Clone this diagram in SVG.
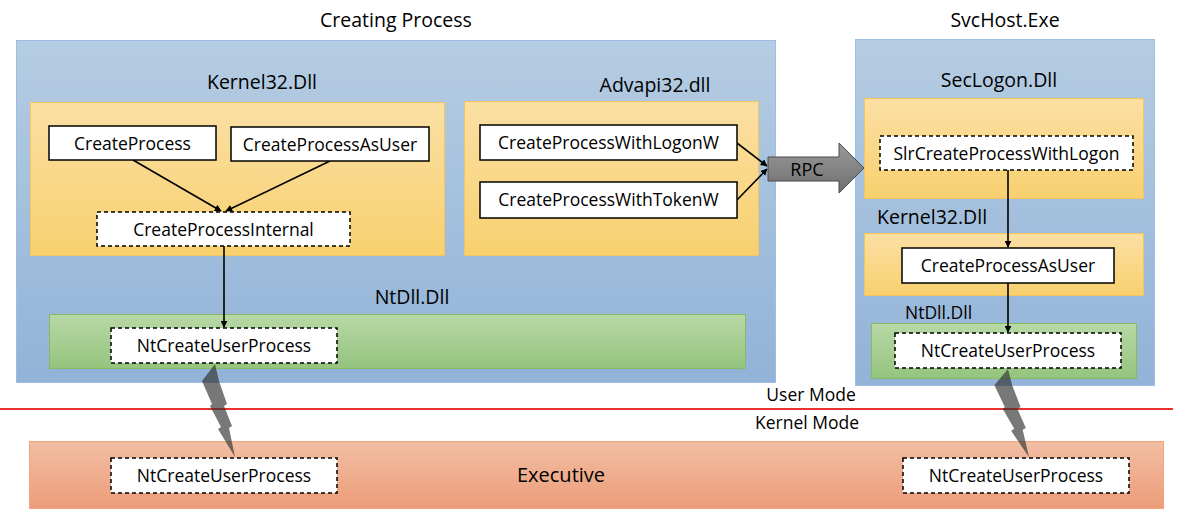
<svg xmlns="http://www.w3.org/2000/svg" width="1194" height="526" viewBox="0 0 1194 526">
<defs>
<linearGradient id="gBlue" x1="0" y1="0" x2="0" y2="1"><stop offset="0" stop-color="#b5cde2"/><stop offset="1" stop-color="#92b2d7"/></linearGradient>
<linearGradient id="gOrange" x1="0" y1="0" x2="0" y2="1"><stop offset="0" stop-color="#fbe0a4"/><stop offset="1" stop-color="#f8d06f"/></linearGradient>
<linearGradient id="gGreen" x1="0" y1="0" x2="0" y2="1"><stop offset="0" stop-color="#b8d8a6"/><stop offset="1" stop-color="#95c47e"/></linearGradient>
<linearGradient id="gExec" x1="0" y1="0" x2="0" y2="1"><stop offset="0" stop-color="#f2bea3"/><stop offset="1" stop-color="#ec9d79"/></linearGradient>
<linearGradient id="gGray" x1="0" y1="0" x2="0" y2="1"><stop offset="0" stop-color="#9a9a9a"/><stop offset="1" stop-color="#6f6f6f"/></linearGradient>
<marker id="ah" viewBox="0 0 10 10" refX="9" refY="5" markerWidth="7" markerHeight="7" orient="auto" markerUnits="userSpaceOnUse"><path d="M0,0 L10,5 L0,10 z" fill="#000"/></marker>
<path id="bolt" d="M0,0 L-13,17 L-3,40 L-5,42 L6,63 L3,65 L20,93 L14,64 L17,62 L9,42 L12,40 L4,17 Z"/>
</defs>
<style>
text{font-family:"Open Sans","Liberation Sans",sans-serif;fill:#000}
.title{font-size:19.5px;text-anchor:middle}
.lbl{font-size:19.5px;text-anchor:middle}
.bt{font-size:17.5px;text-anchor:middle}
.mode{font-size:17.5px;text-anchor:middle}
.blue{fill:url(#gBlue);stroke:#9fbde0;stroke-width:1}
.orange{fill:url(#gOrange);stroke:#f4c55e;stroke-width:1}
.green{fill:url(#gGreen);stroke:#86bb66;stroke-width:1}
.exec{fill:url(#gExec);stroke:#f3a47c;stroke-width:1}
.box{fill:#fff;stroke:#000;stroke-width:1.5}
.dbox{fill:#fff;stroke:#000;stroke-width:1.5;stroke-dasharray:4 3}
.conn{stroke:#000;stroke-width:1.6;fill:none;marker-end:url(#ah)}
.bolt{fill:#2f2f2f;fill-opacity:0.65}
</style>
<rect width="1194" height="526" fill="#fff"/>

<g id="containers">
<text class="title" x="396" y="27">Creating Process</text>
<text class="title" x="1005" y="27">SvcHost.Exe</text>
<rect class="blue" x="16.5" y="40.5" width="759" height="342"/>
<rect class="blue" x="855.5" y="39.5" width="299" height="346"/>
<rect class="exec" x="29.5" y="441.5" width="1134" height="67"/>
<text x="561" y="482" style="font-size:20px;text-anchor:middle">Executive</text>
<line x1="0" y1="409" x2="1173" y2="409" stroke="#e8322e" stroke-width="2"/>
<text class="mode" x="811" y="401">User Mode</text>
<text class="mode" x="807" y="429">Kernel Mode</text>
</g>

<g id="kernel32-left">
<text class="lbl" x="262" y="89">Kernel32.Dll</text>
<rect class="orange" x="30.5" y="102.5" width="414" height="153"/>
</g>
<g id="advapi32">
<text class="lbl" x="655" y="92">Advapi32.dll</text>
<rect class="orange" x="464.5" y="101.5" width="294" height="154"/>
</g>
<g id="ntdll-left">
<text class="lbl" x="412" y="304">NtDll.Dll</text>
<rect class="green" x="49.5" y="314.5" width="696" height="54"/>
</g>
<g id="seclogon">
<text class="lbl" x="999" y="87">SecLogon.Dll</text>
<rect class="orange" x="864.5" y="98.5" width="279" height="100"/>
</g>
<g id="kernel32-right">
<text x="877" y="224" style="font-size:19.5px">Kernel32.Dll</text>
<rect class="orange" x="864.5" y="233.5" width="279" height="62"/>
</g>
<g id="ntdll-right">
<text x="905" y="319" style="font-size:17.5px">NtDll.Dll</text>
<rect class="green" x="871.5" y="323.5" width="265" height="55"/>
</g>

<g id="connectors">
<line class="conn" x1="133" y1="160" x2="221" y2="211"/>
<line class="conn" x1="330" y1="161" x2="226" y2="211"/>
<line class="conn" x1="224" y1="246" x2="224" y2="327"/>
<line class="conn" x1="737" y1="143" x2="767" y2="166"/>
<line class="conn" x1="737" y1="200" x2="767" y2="169"/>
<line class="conn" x1="1008" y1="170" x2="1008" y2="247"/>
<line class="conn" x1="1008" y1="283" x2="1008" y2="332"/>
</g>

<g id="n-createprocess"><rect class="box" x="49" y="126" width="167" height="34"/><text class="bt" x="132.5" y="149.5">CreateProcess</text></g>
<g id="n-createprocessasuser"><rect class="box" x="231" y="127" width="198" height="34"/><text class="bt" x="330" y="150.5">CreateProcessAsUser</text></g>
<g id="n-createprocessinternal"><rect class="dbox" x="97" y="212" width="253" height="34"/><text class="bt" x="223.5" y="235.5">CreateProcessInternal</text></g>
<g id="n-ntcreate-left"><rect class="dbox" x="111" y="328" width="226" height="35"/><text class="bt" x="224" y="351.5">NtCreateUserProcess</text></g>
<g id="n-logonw"><rect class="box" x="480" y="125" width="257" height="35"/><text class="bt" x="608.5" y="148.5">CreateProcessWithLogonW</text></g>
<g id="n-tokenw"><rect class="box" x="480" y="182" width="257" height="36"/><text class="bt" x="608.5" y="206">CreateProcessWithTokenW</text></g>
<g id="rpc">
<path d="M768,157 L839,157 L839,143 L864,168 L839,193 L839,181 L768,181 Z" fill="url(#gGray)" stroke="#4a4a4a" stroke-width="1"/>
<text x="807" y="176" style="font-size:18px;text-anchor:middle">RPC</text>
</g>
<g id="n-slr"><rect class="dbox" x="880" y="136" width="253" height="34"/><text class="bt" x="1006.5" y="159.5">SlrCreateProcessWithLogon</text></g>
<g id="n-cpau-right"><rect class="box" x="902" y="248" width="212" height="35"/><text class="bt" x="1008" y="271.5">CreateProcessAsUser</text></g>
<g id="n-ntcreate-right"><rect class="dbox" x="895" y="333" width="226" height="35"/><text class="bt" x="1008" y="356.5">NtCreateUserProcess</text></g>
<g id="n-exec-left"><rect class="dbox" x="111" y="458" width="226" height="35"/><text class="bt" x="224" y="481.5">NtCreateUserProcess</text></g>
<g id="n-exec-right"><rect class="dbox" x="903" y="458" width="226" height="35"/><text class="bt" x="1016" y="481.5">NtCreateUserProcess</text></g>

<g id="bolts">
<use href="#bolt" class="bolt" transform="translate(215,364)"/>
<use href="#bolt" class="bolt" transform="translate(1008,369) scale(1.05,0.95)"/>
</g>
</svg>
